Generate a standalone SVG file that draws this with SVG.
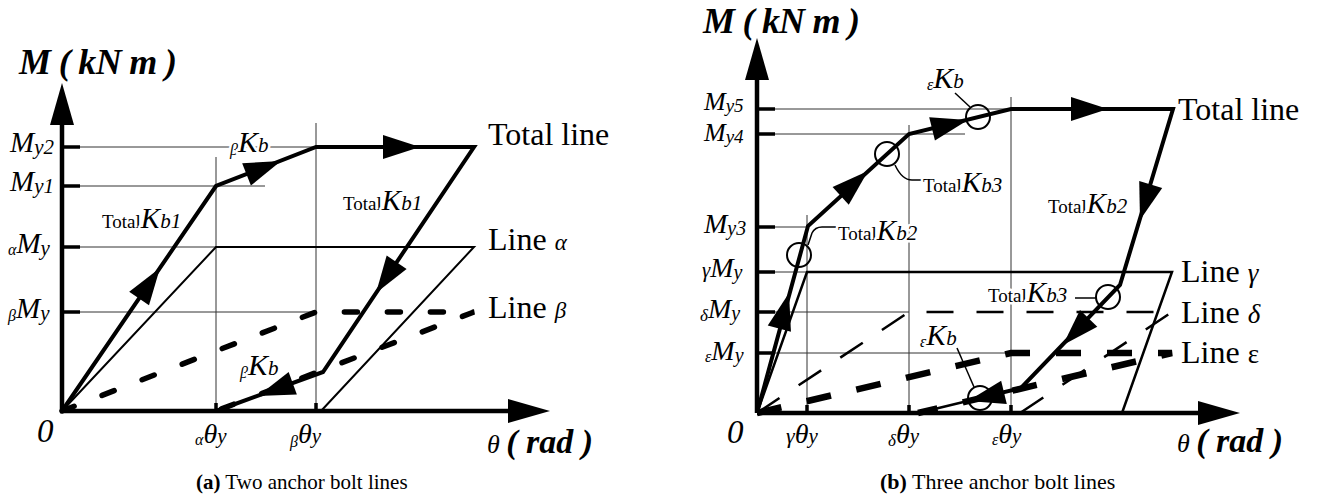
<svg xmlns="http://www.w3.org/2000/svg" width="1318" height="499" viewBox="0 0 1318 499" font-family="'Liberation Serif', 'DejaVu Serif', serif">
<style>
text, tspan { font-family: "Liberation Serif", "DejaVu Serif", serif; fill: #000; }
.i { font-style: italic; }
.bi { font-style: italic; font-weight: bold; }
.bd { font-weight: bold; }
.mask { paint-order: stroke; stroke: #fff; stroke-width: 5; stroke-linejoin: round; }
.grid { stroke: #333; stroke-width: 1; fill: none; }
.axis { stroke: #000; stroke-width: 4.5; fill: none; }
.tick { stroke: #000; stroke-width: 3.5; fill: none; }
.total { stroke: #000; stroke-width: 4; fill: none; stroke-linejoin: miter; }
.thin { stroke: #000; stroke-width: 2; fill: none; }
.beta { stroke: #000; stroke-width: 5.5; fill: none; stroke-dasharray: 13 30; stroke-linecap: round; }
.gam { stroke: #000; stroke-width: 2.5; fill: none; }
.del { stroke: #000; stroke-width: 2.5; fill: none; stroke-dasharray: 27 23; }
.eps { stroke: #000; stroke-width: 6.5; fill: none; stroke-dasharray: 25 26; }
.circ { stroke: #000; stroke-width: 2; fill: none; }
.lead { stroke: #000; stroke-width: 1.5; fill: none; }
</style>
<defs>
<path id="ah" d="M0,0 L-37,-12 L-37,12 Z" fill="#000"/>
<path id="ax" d="M0,0 L-42,-12 L-42,12 Z" fill="#000"/>
</defs>

<!-- ===== Panel (a) ===== -->
<g id="panel-a-grid">
<path class="grid" d="M62,147 H316 M62,186 H265 M62,247 H216 M62,312 H316 M216,157 V411 M316,123 V411"/>
</g>
<g id="panel-a-axes">
<path class="axis" d="M62,411 V120 M62,411 H512"/>
<use href="#ax" transform="translate(62,83) rotate(-90)"/>
<use href="#ax" transform="translate(550,411)"/>
<path class="tick" d="M62,147 H80 M62,186 H80 M62,247 H80 M62,312 H80 M216,403 V411 M316,403 V411"/>
</g>
<g id="panel-a-connectors">
<path id="a-line-alpha" class="thin" d="M62,411 L216,247 L474,247 L321,411"/>
<path id="a-line-beta" class="beta" d="M62,411 L316,312 L474,312 L216,411"/>
<path id="a-total-line" class="total" d="M62,411 L216,186 L316,147 L474,147 L323,372 L216,411"/>
<use href="#ah" transform="translate(160,268) rotate(-55.6)"/>
<use href="#ah" transform="translate(281,161) rotate(-21.3)"/>
<use href="#ah" transform="translate(420,147)"/>
<use href="#ah" transform="translate(376,293) rotate(123.9)"/>
<use href="#ah" transform="translate(258,396) rotate(160)"/>
</g>
<g id="panel-a-labels" font-family="'Liberation Serif', serif">
<text x="19" y="74" class="bi" font-size="36" textLength="158">M ( kN m )</text>
<text x="10" y="152" class="i" font-size="29">M<tspan font-size="21" dy="2">y2</tspan></text>
<text x="10" y="191" class="i" font-size="29">M<tspan font-size="21" dy="2">y1</tspan></text>
<text x="8" y="255" class="i" font-size="16">α<tspan font-size="29" dy="-2">M</tspan><tspan font-size="21" dy="2">y</tspan></text>
<text x="8" y="321" class="i" font-size="16">β<tspan font-size="29" dy="-3">M</tspan><tspan font-size="21" dy="2">y</tspan></text>
<text x="37" y="442" class="i" font-size="33">0</text>
<text x="195" y="445" class="i" font-size="16">α<tspan font-size="28" dy="-2">θ</tspan><tspan font-size="21" dy="0">y</tspan></text>
<text x="290" y="447" class="i" font-size="16">β<tspan font-size="28" dy="-4">θ</tspan><tspan font-size="21" dy="0">y</tspan></text>
<text x="487" y="453" class="i" font-size="26">θ <tspan class="bi" font-size="34">( rad )</tspan></text>
<text x="488" y="145" font-size="32">Total line</text>
<text x="488" y="250" font-size="32">Line <tspan class="i" font-size="23">α</tspan></text>
<text x="488" y="318" font-size="32">Line <tspan class="i" font-size="23">β</tspan></text>
<text x="230" y="155" class="i mask" font-size="16">β<tspan font-size="30" dy="-3">K</tspan><tspan font-size="21" dy="0">b</tspan></text>
<text x="102" y="228" class="mask" font-size="19">Total<tspan class="i" font-size="29">K</tspan><tspan class="i" font-size="21" dy="0">b1</tspan></text>
<text x="343" y="210" class="mask" font-size="19">Total<tspan class="i" font-size="29">K</tspan><tspan class="i" font-size="21" dy="0">b1</tspan></text>
<text x="240" y="378" class="i mask" font-size="16">β<tspan font-size="30" dy="-3">K</tspan><tspan font-size="21" dy="0">b</tspan></text>
<text x="196" y="489" font-size="21"><tspan class="bd">(a)</tspan> Two anchor bolt lines</text>
</g>

<!-- ===== Panel (b) ===== -->
<g id="panel-b-grid">
<path class="grid" d="M757,109 H1011 M757,134 H965 M757,227 H808 M757,272 H807 M757,312 H909 M757,353 H1011 M807,215 V413 M909,125 V413 M1011,97 V413"/>
</g>
<g id="panel-b-axes">
<path class="axis" d="M757,413 V76 M757,413 H1202"/>
<use href="#ax" transform="translate(757,38) rotate(-90)"/>
<use href="#ax" transform="translate(1240,413)"/>
<path class="tick" d="M757,109 H775 M757,134 H775 M757,227 H775 M757,272 H775 M757,312 H775 M757,353 H775 M807,405 V413 M909,405 V413 M1011,405 V413"/>
</g>
<g id="panel-b-connectors">
<path id="b-line-gamma" class="gam" d="M757,413 L807,272 L1172,272 L1122,413"/>
<path id="b-line-delta" class="del" d="M757,413 L909,312 L1172,312 L1020,413"/>
<path id="b-line-eps" class="eps" d="M757,413 L1011,353 L1172,353 L918,413"/>
<path id="b-total-line" class="total" d="M757,413 L808,226 L909,134 L1011,109 L1173,109 L1120,285 L1021,388 L980,398"/>
<path class="gam" d="M980,398 L918,413"/>
<use href="#ah" transform="translate(789,293) rotate(-74.9)"/>
<use href="#ah" transform="translate(868,171) rotate(-42.4)"/>
<use href="#ah" transform="translate(968,120) rotate(-13.8)"/>
<use href="#ah" transform="translate(1108,109)"/>
<use href="#ah" transform="translate(1140,220) rotate(106.8)"/>
<use href="#ah" transform="translate(1063,345) rotate(133.9)"/>
<use href="#ah" transform="translate(968,401) rotate(166.4)"/>
<circle class="circ" cx="799" cy="255" r="12"/>
<circle class="circ" cx="887" cy="154" r="12"/>
<circle class="circ" cx="978" cy="117" r="12"/>
<circle class="circ" cx="1108" cy="297" r="12"/>
<circle class="circ" cx="980" cy="398" r="12"/>
<path class="lead" d="M808,245 L812,233 Q815,227 822,227 L836,227"/>
<path class="lead" d="M895,165 Q902,180 912,180 L922,180"/>
<path class="lead" d="M970,107 L955,93"/>
<path class="lead" d="M1096,298 L1075,298"/>
<path class="lead" d="M974,387 L957,348"/>
</g>
<g id="panel-b-labels" font-family="'Liberation Serif', serif">
<text x="703" y="33" class="bi" font-size="36" textLength="157">M ( kN m )</text>
<text x="704" y="110" class="i" font-size="26">M<tspan font-size="19" dy="2">y5</tspan></text>
<text x="704" y="141" class="i" font-size="26">M<tspan font-size="19" dy="2">y4</tspan></text>
<text x="704" y="233" class="i" font-size="28">M<tspan font-size="20" dy="2">y3</tspan></text>
<text x="702" y="277" class="i" font-size="21">γ<tspan font-size="28">M</tspan><tspan font-size="20" dy="2">y</tspan></text>
<text x="700" y="321" class="i" font-size="17">δ<tspan font-size="28" dy="-3">M</tspan><tspan font-size="20" dy="2">y</tspan></text>
<text x="705" y="362" class="i" font-size="16">ε<tspan font-size="28" dy="-2">M</tspan><tspan font-size="20" dy="2">y</tspan></text>
<text x="727" y="443" class="i" font-size="33">0</text>
<text x="786" y="443" class="i" font-size="22">γ<tspan font-size="28">θ</tspan><tspan font-size="21">y</tspan></text>
<text x="888" y="446" class="i" font-size="17">δ<tspan font-size="28" dy="-3">θ</tspan><tspan font-size="21">y</tspan></text>
<text x="992" y="445" class="i" font-size="16">ε<tspan font-size="28" dy="-2">θ</tspan><tspan font-size="21">y</tspan></text>
<text x="1177" y="452" class="i" font-size="26">θ <tspan class="bi" font-size="34">( rad )</tspan></text>
<text x="1178" y="120" font-size="32">Total line</text>
<text x="1181" y="282" font-size="32">Line  <tspan class="i" font-size="27">γ</tspan></text>
<text x="1181" y="323" font-size="32">Line  <tspan class="i" font-size="27">δ</tspan></text>
<text x="1181" y="363" font-size="32">Line  <tspan font-size="27">ε</tspan></text>
<text x="838" y="240" class="mask" font-size="19">Total<tspan class="i" font-size="29">K</tspan><tspan class="i" font-size="21">b2</tspan></text>
<text x="923" y="192" class="mask" font-size="19">Total<tspan class="i" font-size="29">K</tspan><tspan class="i" font-size="21">b3</tspan></text>
<text x="1048" y="213" class="mask" font-size="19">Total<tspan class="i" font-size="29">K</tspan><tspan class="i" font-size="21">b2</tspan></text>
<text x="988" y="302" class="mask" font-size="19">Total<tspan class="i" font-size="29">K</tspan><tspan class="i" font-size="21">b3</tspan></text>
<text x="927" y="90" class="i" font-size="16">ε<tspan font-size="30" dy="-2">K</tspan><tspan font-size="21">b</tspan></text>
<text x="920" y="347" class="i mask" font-size="16">ε<tspan font-size="30" dy="-2">K</tspan><tspan font-size="21">b</tspan></text>
<text x="880" y="489" font-size="22"><tspan class="bd">(b)</tspan> Three anchor bolt lines</text>
</g>
</svg>
